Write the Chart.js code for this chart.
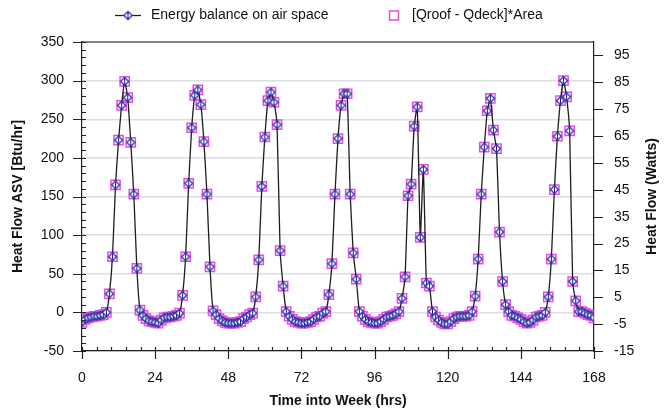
<!DOCTYPE html>
<html>
<head>
<meta charset="utf-8">
<script src="https://cdn.jsdelivr.net/npm/chart.js@4"></script>
<style>
  html, body { margin: 0; padding: 0; background: #fff; }
  #wrap { width: 668px; height: 410px; }
</style>
</head>
<body>
<div id="wrap"><canvas id="chart" width="668" height="410"></canvas></div>
<script>
// Hour of the week for each sample
const hours = Array.from({ length: 169 }, (_, i) => i);

// Net heat flow into the attic air space, Btu/hr, hourly
const energyBalance = [
  -13, -9, -7, -6, -5, -5, -4, -3, 0, 24,
  72, 165, 223, 268, 299, 278, 220, 153, 57, 3,
  -4, -8, -11, -12, -13, -14, -10, -7, -6, -6,
  -5, -4, -1, 22, 72, 167, 239, 281, 288, 269,
  221, 153, 59, 2, -3, -8, -11, -13, -14, -14,
  -14, -13, -12, -8, -6, -3, -1, 20, 68, 163,
  227, 274, 285, 272, 243, 80, 34, 1, -5, -9,
  -12, -13, -14, -14, -13, -12, -9, -6, -5, -1,
  1, 23, 63, 153, 225, 268, 283, 283, 153, 77,
  43, 1, -5, -9, -12, -13, -14, -14, -12, -9,
  -6, -5, -4, -2, 1, 18, 46, 151, 166, 241,
  266, 97, 185, 38, 34, 1, -6, -10, -13, -15,
  -15, -12, -8, -6, -5, -5, -5, -4, 1, 21,
  69, 153, 214, 261, 277, 236, 212, 104, 40, 10,
  1, -4, -5, -7, -9, -12, -14, -13, -10, -6,
  -5, -4, 0, 20, 69, 159, 228, 274, 300, 279,
  235, 40, 15, 1, 1, -1, -3, -4, -7
];

// Roof minus deck surface flux times area, Btu/hr, hourly
const roofDeckFlow = [
  -13, -9, -7, -6, -5, -5, -4, -3, 0, 24,
  72, 165, 223, 268, 299, 278, 220, 153, 57, 3,
  -4, -8, -11, -12, -13, -14, -10, -7, -6, -6,
  -5, -4, -1, 22, 72, 167, 239, 281, 288, 269,
  221, 153, 59, 2, -3, -8, -11, -13, -14, -14,
  -14, -13, -12, -8, -6, -3, -1, 20, 68, 163,
  227, 274, 285, 272, 243, 80, 34, 1, -5, -9,
  -12, -13, -14, -14, -13, -12, -9, -6, -5, -1,
  1, 23, 63, 153, 225, 268, 283, 283, 153, 77,
  43, 1, -5, -9, -12, -13, -14, -14, -12, -9,
  -6, -5, -4, -2, 1, 18, 46, 151, 166, 241,
  266, 97, 185, 38, 34, 1, -6, -10, -13, -15,
  -15, -12, -8, -6, -5, -5, -5, -4, 1, 21,
  69, 153, 214, 261, 277, 236, 212, 104, 40, 10,
  1, -4, -5, -7, -9, -12, -14, -13, -10, -6,
  -5, -4, 0, 20, 69, 159, 228, 274, 300, 279,
  235, 40, 15, 1, 1, -1, -3, -4, -7
];

// Axis tick labels
const hourTicks = [0, 24, 48, 72, 96, 120, 144, 168];
const btuTicks = [-50, 0, 50, 100, 150, 200, 250, 300, 350];
const wattTicks = [-15, -5, 5, 15, 25, 35, 45, 55, 65, 75, 85, 95];

const LINE_COLOR = '#1e1e1e';
const DIAMOND_COLOR = '#2a2fa8';
const SQUARE_COLOR = '#e24ee2';
const AXIS_COLOR = '#222';
const FONT = '"Liberation Sans", Arial, sans-serif';

// Open diamond marker with a vertical stroke
const diamond = document.createElement('canvas');
diamond.width = 11; diamond.height = 11;
(() => {
  const c = diamond.getContext('2d');
  c.beginPath();
  c.moveTo(5.5, 1.5); c.lineTo(9.5, 5.5); c.lineTo(5.5, 9.5); c.lineTo(1.5, 5.5); c.closePath();
  c.fillStyle = '#fff'; c.fill();
  c.strokeStyle = DIAMOND_COLOR; c.lineWidth = 1.3; c.stroke();
  c.beginPath(); c.moveTo(5.5, 2.5); c.lineTo(5.5, 8.5);
  c.strokeStyle = '#1c2270'; c.lineWidth = 1; c.stroke();
})();

// Frame, major and minor tick marks, and the right-hand axis title
const axisMarks = {
  id: 'axisMarks',
  afterDraw(chart) {
    const { ctx, chartArea: a, scales: { x, y, y2 } } = chart;
    ctx.save();
    ctx.strokeStyle = AXIS_COLOR;
    ctx.lineWidth = 1.2;
    ctx.beginPath();
    ctx.moveTo(a.left, a.top); ctx.lineTo(a.right, a.top);
    btuTicks.forEach(v => {
      const py = Math.round(y.getPixelForValue(v)) + 0.5;
      ctx.moveTo(a.left - 9, py); ctx.lineTo(a.left + 4, py);
    });
    for (let v = y.min; v <= y.max; v += 10) {
      if (v % 50 === 0) continue;
      const py = Math.round(y.getPixelForValue(v)) + 0.5;
      ctx.moveTo(a.left, py); ctx.lineTo(a.left + 4, py);
    }
    wattTicks.forEach(v => {
      const py = Math.round(y2.getPixelForValue(v)) + 0.5;
      ctx.moveTo(a.right, py); ctx.lineTo(a.right + 9, py);
    });
    hourTicks.forEach(v => {
      const px = Math.round(x.getPixelForValue(v)) + 0.5;
      ctx.moveTo(px, a.bottom - 4); ctx.lineTo(px, a.bottom + 8);
    });
    for (let i = 1; i < 35; i++) {
      if (i % 5 === 0) continue;
      const px = Math.round(x.getPixelForValue(i * 4.8)) + 0.5;
      ctx.moveTo(px, a.bottom - 4); ctx.lineTo(px, a.bottom);
    }
    ctx.stroke();

    // right axis title, reading upward like the left one
    ctx.translate(y2.right - 16, (a.top + a.bottom) / 2);
    ctx.rotate(-Math.PI / 2);
    ctx.font = 'bold 14px ' + FONT;
    ctx.fillStyle = '#111';
    ctx.textAlign = 'center';
    ctx.textBaseline = 'middle';
    ctx.fillText('Heat Flow (Watts)', 0, 0);
    ctx.restore();
  }
};

// Legend row above the plot
const legendKey = {
  id: 'legendKey',
  afterDraw(chart) {
    const ctx = chart.ctx;
    const ds = chart.data.datasets;
    const ym = 15;
    ctx.save();
    ctx.strokeStyle = LINE_COLOR; ctx.lineWidth = 1.3;
    ctx.beginPath(); ctx.moveTo(115, ym + 0.5); ctx.lineTo(141, ym + 0.5); ctx.stroke();
    ctx.drawImage(diamond, 128 - diamond.width / 2, ym + 0.5 - diamond.height / 2);
    ctx.font = '14px ' + FONT;
    ctx.fillStyle = '#111';
    ctx.textBaseline = 'middle';
    ctx.fillText(ds[0].label, 151, ym);
    ctx.strokeStyle = SQUARE_COLOR; ctx.lineWidth = 1.5;
    ctx.strokeRect(389.5, ym - 4, 9, 9);
    ctx.fillText(ds[1].label, 412, ym);
    ctx.restore();
  }
};

const toPoints = vals => vals.map((v, i) => ({ x: hours[i], y: v }));

new Chart(document.getElementById('chart'), {
  type: 'line',
  data: {
    datasets: [
      {
        label: 'Energy balance on air space',
        data: toPoints(energyBalance),
        borderColor: LINE_COLOR,
        borderWidth: 1.3,
        pointStyle: diamond,
        pointRadius: 4,
        tension: 0.15,
        order: 1
      },
      {
        label: '[Qroof - Qdeck]*Area',
        data: toPoints(roofDeckFlow),
        showLine: false,
        pointStyle: 'rect',
        pointRadius: 6.5,
        borderColor: SQUARE_COLOR,
        backgroundColor: 'rgba(0,0,0,0)',
        pointBorderWidth: 1.5,
        order: 2
      }
    ]
  },
  options: {
    responsive: false,
    animation: false,
    events: [],
    layout: { padding: { top: 42, left: 0, right: 0, bottom: 0 } },
    plugins: { legend: { display: false }, tooltip: { enabled: false } },
    scales: {
      x: {
        type: 'linear',
        min: 0, max: 168,
        afterFit: s => { s.height = 59; },
        afterBuildTicks: s => { s.ticks = hourTicks.map(v => ({ value: v })); },
        grid: { display: false, drawTicks: false },
        border: { display: true, color: AXIS_COLOR, width: 1.2 },
        ticks: { padding: 19, color: '#111', font: { family: FONT, size: 14 }, maxRotation: 0 },
        title: {
          display: true, text: 'Time into Week (hrs)', color: '#111',
          font: { family: FONT, size: 14, weight: 'bold' },
          padding: { top: 0, bottom: 0 }
        }
      },
      y: {
        position: 'left',
        min: -50, max: 350,
        afterFit: s => { s.width = 82; },
        afterBuildTicks: s => { s.ticks = btuTicks.map(v => ({ value: v })); },
        grid: { color: '#dadfe3', lineWidth: 1.5, drawTicks: false },
        border: { display: true, color: AXIS_COLOR, width: 1.2 },
        ticks: { padding: 18, color: '#111', font: { family: FONT, size: 14 } },
        title: {
          display: true, text: 'Heat Flow ASV [Btu/hr]', color: '#111',
          font: { family: FONT, size: 14, weight: 'bold' },
          padding: { top: 10, bottom: 0 }
        }
      },
      y2: {
        position: 'right',
        min: -15, max: 100,
        afterFit: s => { s.width = 74; },
        afterBuildTicks: s => { s.ticks = wattTicks.map(v => ({ value: v })); },
        grid: { display: false, drawTicks: false },
        border: { display: true, color: AXIS_COLOR, width: 1.2 },
        ticks: { padding: 20, color: '#111', font: { family: FONT, size: 14 } },
        title: { display: false }
      }
    }
  },
  plugins: [axisMarks, legendKey]
});
</script>
</body>
</html>
